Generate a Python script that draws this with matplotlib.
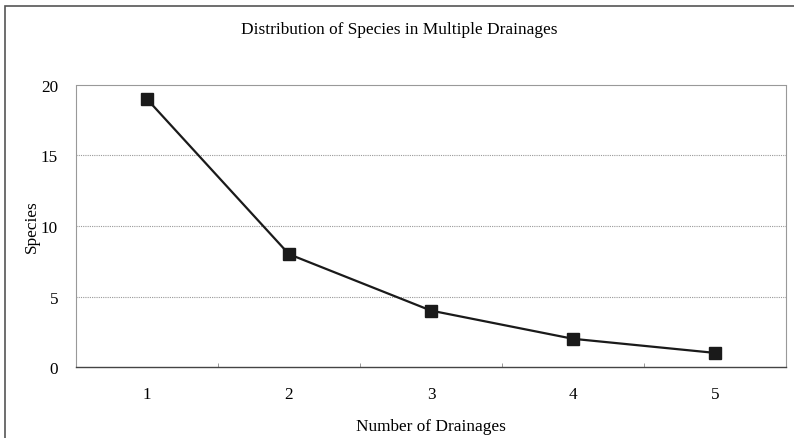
import matplotlib.pyplot as plt
from matplotlib.patches import Rectangle

# Data
drainages = [1, 2, 3, 4, 5]
species = [19, 8, 4, 2, 1]
y_ticks = [0, 5, 10, 15, 20]

plt.rcParams['font.family'] = ['Liberation Serif', 'DejaVu Serif']

fig = plt.figure(figsize=(7.94, 4.39), dpi=100)
ax = fig.add_axes([76 / 794, 1 - 368 / 439, 710 / 794, 282 / 439])

# outer chart frame (right/bottom run off the image)
fig.patches.append(Rectangle((5 / 794, -0.1), 1.2, 1 - 7 / 439 + 0.1,
                             transform=fig.transFigure, fill=False,
                             edgecolor='#555555', linewidth=1.2))

for y in y_ticks[1:-1]:
    ax.axhline(y, color='#999999', linewidth=0.8, linestyle=(0, (1, 1)), zorder=1)

ax.plot(drainages, species, color='#1a1a1a', linewidth=1.6, marker='s',
        markersize=8.5, markerfacecolor='#1a1a1a', markeredgecolor='#1a1a1a',
        zorder=3)

ax.set_xlim(0.5, 5.5)
ax.set_ylim(0, 20)
ax.set_yticks(y_ticks)
ax.set_xticks(drainages)
ax.set_xticks([1.5, 2.5, 3.5, 4.5], minor=True)
ax.tick_params(axis='x', which='major', length=0, pad=14, labelsize=12.3)
ax.tick_params(axis='x', which='minor', length=3, direction='in', color='#888888')
ax.tick_params(axis='y', length=0, pad=13, labelsize=12.3)

for side in ['top', 'right', 'left']:
    ax.spines[side].set_color('#999999')
    ax.spines[side].set_linestyle((0, (1, 1)))
    ax.spines[side].set_linewidth(0.8)
ax.spines['bottom'].set_color('#444444')
ax.spines['bottom'].set_linewidth(1.0)

fig.text(399 / 794, 1 - 30 / 439, 'Distribution of Species in Multiple Drainages',
         ha='center', va='center', fontsize=12.4)
ax.set_xlabel('Number of Drainages', fontsize=12.4, labelpad=11)
ax.set_ylabel('Species', fontsize=12.4, labelpad=1)

fig.savefig('out.png', dpi=100, facecolor='white')
